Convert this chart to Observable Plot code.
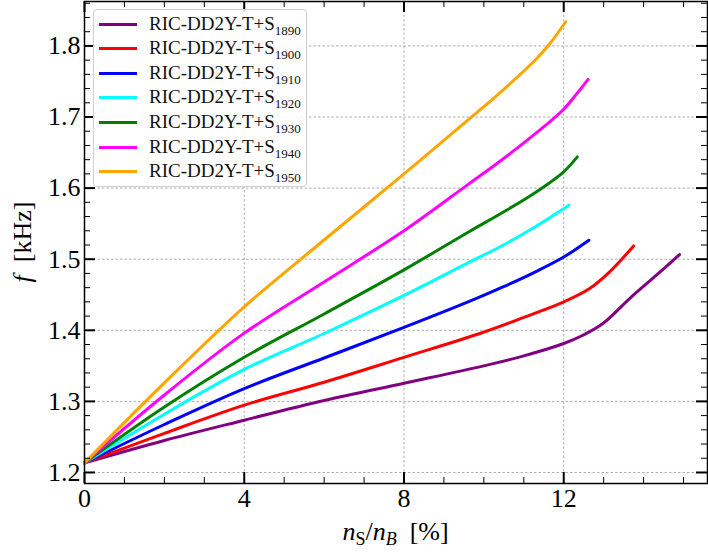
<!DOCTYPE html>
<html>
<head>
<meta charset="utf-8">
<script src="https://cdn.jsdelivr.net/npm/d3@7"></script>
<script src="https://cdn.jsdelivr.net/npm/@observablehq/plot@0.6"></script>
<style>
  body { margin: 0; background: #fff; }
  #wrap { position: relative; width: 708px; height: 552px; font-family: "Liberation Serif", serif; }
  #legend { position: absolute; left: 93px; top: 9px; width: 214px; height: 178px; box-sizing: border-box;
            border: 1px solid #cfcfcf; border-radius: 4px; background: rgba(255,255,255,0.85); }
  .row { position: absolute; left: 0; height: 24px; width: 100%; }
  .swatch { position: absolute; left: 5px; top: 11px; width: 38px; height: 3px; }
  .lbl { position: absolute; left: 55px; top: 0; font-size: 19px; line-height: 24px; color: #111; white-space: nowrap; }
  .lbl sub { font-size: 13px; vertical-align: -5px; line-height: 0; }
</style>
</head>
<body>
<div id="wrap"><div id="chart"></div><div id="legend"></div></div>
<script>
// ---- data ----
const seriesNames = ["RIC-DD2Y-T+S1890", "RIC-DD2Y-T+S1900", "RIC-DD2Y-T+S1910", "RIC-DD2Y-T+S1920", "RIC-DD2Y-T+S1930", "RIC-DD2Y-T+S1940", "RIC-DD2Y-T+S1950"];
const seriesSubs = ["1890", "1900", "1910", "1920", "1930", "1940", "1950"];
const seriesColors = ["#800080", "#ff0000", "#0000ff", "#00ffff", "#008000", "#ff00ff", "#ffa500"];

const x1890 = [0, 2, 4, 6, 8, 10, 11, 12, 12.48, 12.98, 13.65, 14.32, 14.9];
const f1890 = [1.2135, 1.245, 1.2735, 1.3012, 1.3255, 1.350, 1.364, 1.3814, 1.393, 1.4095, 1.4447, 1.4775, 1.5066];
const x1900 = [0, 2, 4, 6, 8, 9.9, 10.9, 12, 12.65, 13.15, 13.75];
const f1900 = [1.2135, 1.255, 1.2947, 1.327, 1.362, 1.3955, 1.416, 1.440, 1.4588, 1.4822, 1.5187];
const x1910 = [0, 2, 4, 6, 8, 9.65, 10.48, 11.32, 12, 12.63];
const f1910 = [1.2135, 1.2675, 1.318, 1.361, 1.404, 1.4409, 1.461, 1.483, 1.503, 1.5267];
const x1920 = [0, 2, 4, 6, 8, 9.65, 10.48, 11.32, 12.13];
const f1920 = [1.2135, 1.282, 1.345, 1.3955, 1.449, 1.4962, 1.5197, 1.5468, 1.576];
const x1930 = [0, 2, 4, 6, 8, 9.65, 10.48, 11.32, 12, 12.34];
const f1930 = [1.2135, 1.292, 1.362, 1.423, 1.485, 1.5394, 1.566, 1.595, 1.623, 1.6439];
const x1940 = [0, 2, 4, 6, 8, 9.65, 10.48, 11.32, 12, 12.33, 12.61];
const f1940 = [1.2135, 1.309, 1.396, 1.468, 1.540, 1.607, 1.641, 1.678, 1.711, 1.733, 1.753];
const x1950 = [0, 2, 4, 6, 8, 9.65, 10.48, 11.32, 11.65, 12.05];
const f1950 = [1.2135, 1.326, 1.433, 1.527, 1.620, 1.698, 1.738, 1.782, 1.803, 1.834];

const xMajor = [0, 4, 8, 12];
const xMinor = [1, 2, 3, 5, 6, 7, 9, 10, 11, 13, 14, 15];
const yMajor = [1.2, 1.3, 1.4, 1.5, 1.6, 1.7, 1.8];
const yMinor = [1.22, 1.24, 1.26, 1.28, 1.32, 1.34, 1.36, 1.38, 1.42, 1.44, 1.46, 1.48,
                1.52, 1.54, 1.56, 1.58, 1.62, 1.64, 1.66, 1.68, 1.72, 1.74, 1.76, 1.78, 1.82, 1.84, 1.86];
const xDomain = [0, 15.6];
const yDomain = [1.1845, 1.8625];

// ---- build table ----
const xs = [x1890, x1900, x1910, x1920, x1930, x1940, x1950];
const fs = [f1890, f1900, f1910, f1920, f1930, f1940, f1950];
const rows = [];
seriesNames.forEach((s, i) => xs[i].forEach((x, j) => rows.push({s, x, f: fs[i][j]})));

const W = 708, H = 552, mL = 84, mR = 1, mT = 1, mB = 69;
const plotH = H - mT - mB, plotW = W - mL - mR;
const majorLen = 11, minorLen = 6;
const font = "Liberation Serif";

const chart = Plot.plot({
  width: W, height: H,
  marginLeft: mL, marginRight: mR, marginTop: mT, marginBottom: mB,
  style: {fontFamily: font, background: "white", color: "black", overflow: "visible"},
  x: {domain: xDomain},
  y: {domain: yDomain},
  color: {domain: seriesNames, range: seriesColors},
  marks: [
    Plot.gridX(xMajor, {stroke: "#999999", strokeOpacity: 1, strokeWidth: 0.8, strokeDasharray: "2.5,2"}),
    Plot.gridY(yMajor, {stroke: "#999999", strokeOpacity: 1, strokeWidth: 0.8, strokeDasharray: "2.5,2"}),
    Plot.line(rows, {x: "x", y: "f", z: "s", stroke: "s", strokeWidth: 3, curve: "catmull-rom"}),
    // inward ticks: bottom & top
    Plot.tickX(xMajor, {x: d => d, insetTop: plotH - majorLen, stroke: "black", strokeWidth: 2}),
    Plot.tickX(xMajor, {x: d => d, insetBottom: plotH - majorLen, stroke: "black", strokeWidth: 2}),
    Plot.tickX(xMinor, {x: d => d, insetTop: plotH - minorLen, stroke: "black", strokeWidth: 1}),
    Plot.tickX(xMinor, {x: d => d, insetBottom: plotH - minorLen, stroke: "black", strokeWidth: 1}),
    // inward ticks: left & right
    Plot.tickY(yMajor, {y: d => d, insetRight: plotW - majorLen, stroke: "black", strokeWidth: 2}),
    Plot.tickY(yMajor, {y: d => d, insetLeft: plotW - majorLen, stroke: "black", strokeWidth: 2}),
    Plot.tickY(yMinor, {y: d => d, insetRight: plotW - minorLen, stroke: "black", strokeWidth: 1}),
    Plot.tickY(yMinor, {y: d => d, insetLeft: plotW - minorLen, stroke: "black", strokeWidth: 1}),
    Plot.frame({stroke: "black", strokeWidth: 1.5}),
    Plot.axisX(xMajor, {tickSize: 0, tickPadding: 5, fontSize: 26, label: null, tickFormat: d => String(d), fill: "black"}),
    Plot.axisY(yMajor, {tickSize: 0, tickPadding: 4, fontSize: 26, label: null, tickFormat: d3.format(".1f"), fill: "black"})
  ]
});
document.getElementById("chart").appendChild(chart);

// ---- axis labels with italic / subscripts ----
const svg = d3.select(chart);
const yl = svg.append("text")
  .attr("transform", `translate(31,${mT + plotH / 2}) rotate(-90)`)
  .attr("text-anchor", "middle").attr("font-family", font).attr("font-size", 26).attr("fill", "black");
yl.append("tspan").attr("font-style", "italic").text("f");
yl.append("tspan").text("\u2002[kHz]");

const xl = svg.append("text")
  .attr("x", mL + plotW / 2).attr("y", 540)
  .attr("text-anchor", "middle").attr("font-family", font).attr("font-size", 26).attr("fill", "black");
xl.append("tspan").attr("font-style", "italic").text("n");
xl.append("tspan").attr("font-size", 18).attr("dy", 5).text("S");
xl.append("tspan").attr("dy", -5).text("/");
xl.append("tspan").attr("font-style", "italic").text("n");
xl.append("tspan").attr("font-style", "italic").attr("font-size", 18).attr("dy", 5).text("B");
xl.append("tspan").attr("dy", -5).text("\u2002[%]");

// ---- legend ----
const legend = document.getElementById("legend");
seriesNames.forEach((s, i) => {
  const row = document.createElement("div");
  row.className = "row";
  row.style.top = (1.5 + i * 24.65) + "px";
  const sw = document.createElement("div");
  sw.className = "swatch";
  sw.style.background = seriesColors[i];
  const lbl = document.createElement("div");
  lbl.className = "lbl";
  lbl.innerHTML = "RIC-DD2Y-T+S<sub>" + seriesSubs[i] + "</sub>";
  row.appendChild(sw); row.appendChild(lbl);
  legend.appendChild(row);
});
</script>
</body>
</html>
